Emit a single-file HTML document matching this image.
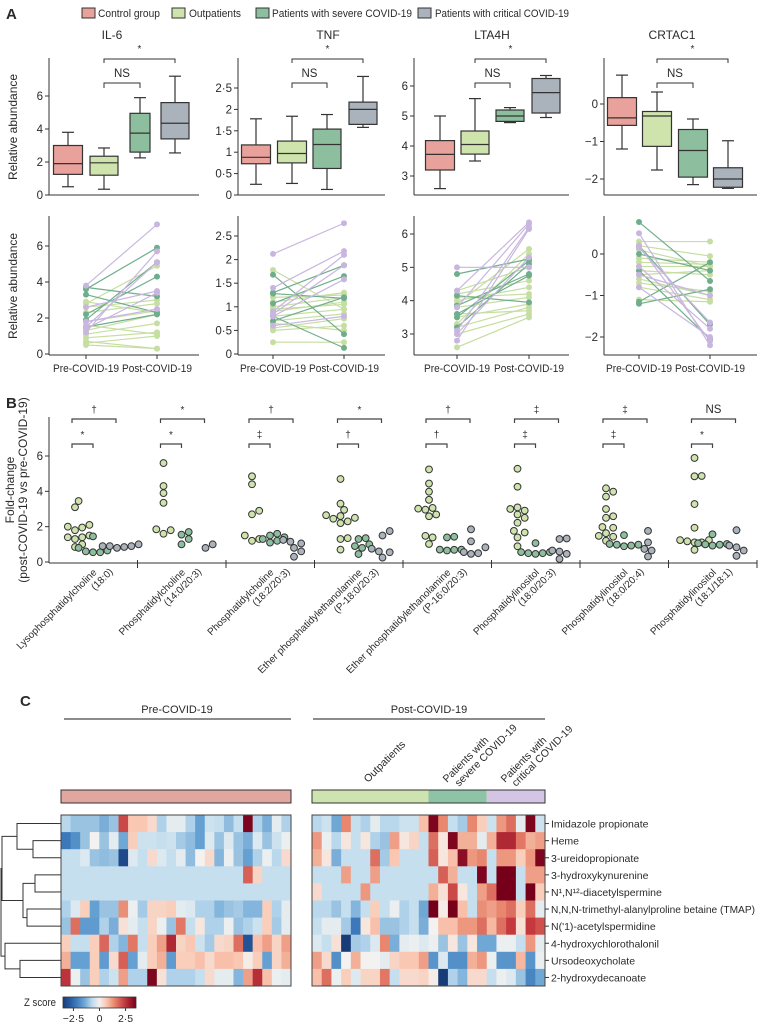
<!DOCTYPE html>
<html><head><meta charset="utf-8"><style>
html,body{margin:0;padding:0;background:#fff;}
svg{display:block;font-family:"Liberation Sans",sans-serif;}
text{fill:#2a2a2a;}
</style></head><body>
<svg id="fig" width="758" height="1025" viewBox="0 0 758 1025" xmlns="http://www.w3.org/2000/svg">
<text x="6" y="19" font-size="15" font-weight="bold">A</text>
<text x="6" y="408" font-size="15" font-weight="bold">B</text>
<text x="20" y="706" font-size="15" font-weight="bold">C</text>
<g font-size="11">
<g><rect x="82" y="8" width="13" height="10" fill="#e8a19b" stroke="#333"/><text x="98" y="17" textLength="62" lengthAdjust="spacingAndGlyphs">Control group</text></g>
<g><rect x="172" y="8" width="13" height="10" fill="#cfe3ad" stroke="#333"/><text x="189" y="17" textLength="52" lengthAdjust="spacingAndGlyphs">Outpatients</text></g>
<g><rect x="256" y="8" width="13" height="10" fill="#8dbf9f" stroke="#333"/><text x="272" y="17" textLength="140" lengthAdjust="spacingAndGlyphs">Patients with severe COVID-19</text></g>
<g><rect x="418" y="8" width="13" height="10" fill="#aab2bc" stroke="#333"/><text x="435" y="17" textLength="134" lengthAdjust="spacingAndGlyphs">Patients with critical COVID-19</text></g>
</g>
<text transform="translate(17,127) rotate(-90)" text-anchor="middle" font-size="12">Relative abundance</text>
<text transform="translate(17,286) rotate(-90)" text-anchor="middle" font-size="12">Relative abundance</text>
<text transform="translate(14,490) rotate(-90)" text-anchor="middle" font-size="12">Fold-change</text>
<text transform="translate(27,490) rotate(-90)" text-anchor="middle" font-size="12">(post-COVID-19 vs pre-COVID-19)</text>
<text x="24" y="1006" font-size="11" textLength="32" lengthAdjust="spacingAndGlyphs">Z score</text>
</svg>
<script>
// ---------- DATA ----------
const boxCategories = ['Control group','Outpatients','Patients with severe COVID-19','Patients with critical COVID-19'];
const proteinNames = ['IL-6','TNF','LTA4H','CRTAC1'];
// [min, q1, median, q3, max]
const il6Box = [[0.5,1.25,1.9,3.0,3.8],[0.35,1.2,1.95,2.35,2.85],[2.25,2.6,3.75,4.95,5.9],[2.55,3.4,4.35,5.6,7.2]];
const tnfBox = [[0.25,0.73,0.88,1.17,1.78],[0.27,0.75,0.97,1.26,1.84],[0.13,0.62,1.18,1.54,1.88],[1.58,1.65,2.0,2.17,2.77]];
const lta4hBox = [[2.58,3.2,3.72,4.18,5.0],[3.5,3.73,4.05,4.5,5.58],[4.78,4.82,5.0,5.2,5.28],[4.95,5.1,5.78,6.25,6.35]];
const crtac1Box = [[-1.2,-0.57,-0.37,0.17,0.77],[-1.76,-1.13,-0.32,-0.2,0.32],[-2.15,-1.95,-1.24,-0.68,-0.4],[-2.25,-2.22,-2.0,-1.7,-0.98]];
const il6Ticks = [0,2,4,6], tnfTicks = [0,0.5,1,1.5,2,2.5], lta4hTicks = [3,4,5,6], crtac1Ticks = [-2,-1,0];

const il6OutPre = [0.5,0.6,0.9,1.1,1.3,1.8,2.3,2.6,2.8,2.9,1.6,0.7];
const il6OutPost = [0.3,1.0,1.2,1.7,2.2,2.4,2.8,3.0,4.9,2.3,1.1,0.3];
const il6SevPre = [3.6,3.3,2.2,1.5,3.7,1.9];
const il6SevPost = [5.9,2.3,4.3,2.2,3.2,5.1];
const il6CritPre = [3.8,1.2,1.5,2.6,1.8,1.4];
const il6CritPost = [7.2,5.7,5.1,3.5,2.5,3.4];
const tnfOutPre = [0.25,0.5,0.55,0.7,0.8,0.9,1.0,1.1,1.2,1.78,0.65,0.95];
const tnfOutPost = [0.25,0.6,0.75,0.85,0.95,1.1,1.2,1.3,1.25,0.95,0.5,1.05];
const tnfSevPre = [1.68,1.3,1.07,0.7,1.28,0.8];
const tnfSevPost = [0.42,1.88,1.65,1.2,1.18,0.13];
const tnfCritPre = [2.12,1.4,0.9,0.85,0.8,0.6];
const tnfCritPost = [2.77,2.18,2.1,1.88,1.58,0.8];
const lta4hOutPre = [2.6,3.0,3.2,3.5,3.8,4.0,4.2,4.3,3.3,3.9,3.6,4.1];
const lta4hOutPost = [3.5,3.6,3.8,3.9,4.1,4.4,4.6,5.0,5.4,5.55,3.7,4.2];
const lta4hSevPre = [4.8,4.15,3.85,3.5,3.2,3.6];
const lta4hSevPost = [5.25,3.95,4.8,5.2,5.1,4.75];
const lta4hCritPre = [5.0,4.3,3.8,3.1,2.8,3.0];
const lta4hCritPost = [5.0,6.35,6.3,6.2,6.15,5.3];
const crtac1OutPre = [0.3,0.2,-0.1,-0.3,-0.5,-0.7,-0.8,-1.1,0.1,-0.4,-0.6,-0.2];
const crtac1OutPost = [0.3,-0.05,-0.2,-0.3,-0.4,-0.9,-1.1,-1.15,-0.3,-0.5,-1.0,-0.25];
const crtac1SevPre = [0.77,0.0,-0.4,-1.2,0.2,-1.15];
const crtac1SevPost = [-0.65,-0.4,-2.05,-0.85,-1.7,-0.2];
const crtac1CritPre = [0.5,0.2,0.15,-0.3,-0.5,-0.8];
const crtac1CritPost = [-2.2,-2.1,-1.65,-1.8,-1.0,-2.0];

const lipidLine1 = ['Lysophosphatidylcholine','Phosphatidylcholine','Phosphatidylcholine','Ether phosphatidylethanolamine','Ether phosphatidylethanolamine','Phosphatidylinositol','Phosphatidylinositol','Phosphatidylinositol'];
const lipidLine2 = ['(18:0)','(14:0/20:3)','(18:2/20:3)','(P-18:0/20:3)','(P-16:0/20:3)','(18:0/20:3)','(18:0/20:4)','(18:1/18:1)'];
const sigTop = ['†','*','†','*','†','‡','‡','NS'];
const sigBottom = ['*','*','‡','†','†','‡','‡','*'];
const fcOut = [
 [3.45,3.1,2.1,2.0,1.95,1.8,1.5,1.4,1.4,1.3,1.0,0.85],
 [5.6,4.3,3.9,3.35,1.85,1.8,1.6],
 [4.85,4.4,2.9,2.7,1.5,1.3,1.2],
 [4.7,3.3,2.95,2.65,2.6,2.5,2.45,2.3,2.2,1.35,1.3,0.7],
 [5.24,4.44,3.98,3.52,3.06,2.96,2.69,2.59,3.02,1.48,1.39,1.02],
 [5.28,4.26,3.09,2.91,2.69,2.5,2.22,1.76,1.67,1.39,0.89,3.0],
 [4.17,3.98,3.7,3.0,2.59,2.5,1.98,1.94,1.63,1.48,1.2,1.43],
 [5.89,4.87,4.85,3.28,1.94,1.24,1.11,1.11,1.17,0.69,1.24]];
const fcSev = [[1.45,0.8,0.65,0.6,0.55,0.55],[1.7,1.55,1.3,1.0],[1.6,1.5,1.4,1.3,1.2,1.1],[1.35,1.3,1.0,0.9,0.8,0.45],[1.39,1.43,0.7,0.69,0.65,0.7],[1.07,0.56,0.56,0.5,0.46,0.5],[1.52,0.98,0.93,0.89,0.98,1.02],[1.57,1.06,0.98,0.93,1.02,1.0]];
const fcCrit = [[1.0,0.9,0.9,0.85,0.8,0.9],[1.0,0.8],[1.25,1.15,1.05,0.8,0.6,0.3],[1.75,1.5,0.75,0.6,0.25,0.55],[1.85,1.17,0.83,0.56,0.46,0.5],[1.33,1.3,0.59,0.65,0.46,0.17],[1.76,1.11,0.74,0.65,0.31],[1.8,0.93,0.83,0.65,0.35]];
const fcTicks = [0,2,4,6];

const metabolites = ['Imidazole propionate','Heme','3-ureidopropionate','3-hydroxykynurenine','N¹,N¹²-diacetylspermine','N,N,N-trimethyl-alanylproline betaine (TMAP)',"N('1)-acetylspermidine",'4-hydroxychlorothalonil','Ursodeoxycholate','2-hydroxydecanoate'];
const heatPre = [
[-0.7,-1.0,-1.0,-1.0,-1.3,-1.0,2.3,0.7,0.7,0.4,-0.8,-0.2,-0.2,-0.8,-1.5,-0.5,-0.6,-1.1,-0.6,3.5,-0.8,-1.3,-0.2,-0.8],
[-2.2,-1.8,-1.0,0,-1.0,-0.2,-1.4,0.6,-0.5,-0.5,-0.6,-0.5,-0.9,-1.1,-1.5,-0.3,-1.0,-0.3,-1.0,-1.3,-0.3,-1.0,-0.5,-0.1],
[-0.6,-0.6,-0.3,-1.0,-1.1,-1.0,-3.2,-0.3,-0.6,0.4,-0.3,-0.6,-0.2,-1.1,0,0.4,-1.2,-0.1,-1.0,-1.5,-0.8,-0.1,-0.7,0.4],
[-0.6,-0.6,-0.6,-0.6,-0.6,-0.6,-0.6,-0.6,-0.6,-0.6,-0.6,-0.6,-0.6,-0.6,-0.6,-0.6,-0.6,-0.6,-0.6,2.0,0.5,-0.6,-0.6,-0.6],
[-0.6,-0.6,-0.6,-0.6,-0.6,-0.6,-0.6,-0.6,-0.6,-0.6,-0.6,-0.6,-0.6,-0.6,-0.6,-0.6,-0.6,-0.6,-0.6,-0.6,-0.6,-0.6,-0.6,-0.6],
[-0.8,-0.3,0.6,-1.5,-1.0,-1.0,1.4,-0.1,-0.9,0.5,0.5,0.6,-0.2,-0.3,-0.8,-0.8,-1.2,-1.0,-0.9,-1.2,-1.2,0.6,-0.8,-0.2],
[-1.0,1.8,-1.6,-1.6,-0.8,-1.3,0.3,-0.2,-0.6,0.5,-0.1,-1.0,1.7,-0.6,0.2,-0.8,-0.8,-0.1,-1.0,-0.8,-0.5,0.6,-0.9,-0.2],
[0.6,-0.6,-0.6,0.6,1.9,-0.8,-1.2,1.7,-0.6,0.6,1.2,2.8,0.5,0.7,-0.5,-0.9,0.4,0.5,1.8,-3.0,0.8,1.2,0.5,1.2],
[1.0,-1.5,-1.5,0.6,-1.6,0.4,2.0,-1.5,-0.2,0.6,1.0,-1.6,0.6,0.6,0.8,0.4,0.8,0.8,0.7,0.1,0.6,-1.5,0.5,1.0],
[2.6,-0.1,-1.0,0.6,-0.8,-0.5,1.2,-0.8,-0.8,3.5,0.3,-0.8,-0.8,-0.8,-0.6,0.4,-0.2,-0.2,-1.2,1.2,2.7,0.8,-0.1,-0.2]];
const heatPost = [
[-0.7,-0.5,-1.4,1.5,-0.6,-0.8,-0.2,-0.7,-0.7,-0.5,-0.5,0.8,3.5,1.5,-0.6,-0.9,1.5,0.6,-0.5,1.3,1.8,-0.2,3.5,-0.5],
[1.3,-0.1,-0.7,0.2,-0.6,0.2,-0.8,-1.0,1.2,0.2,0.5,-0.6,1.8,0.2,3.5,1.0,1.0,-0.2,1.0,2.8,2.8,1.7,1.0,1.2],
[1.0,0.2,-1.3,-0.6,-0.6,-0.6,1.8,-0.9,0.7,-0.6,-0.6,-0.6,2.0,0.2,0.8,3.3,1.3,1.5,-0.6,1.3,1.3,0.6,1.3,3.5],
[-0.6,-0.6,-0.6,1.2,-0.6,-0.6,1.2,-0.6,-0.6,-0.6,-0.6,-0.6,-0.6,2.0,1.0,-0.6,-0.6,3.5,-0.6,3.8,3.8,-0.6,1.2,1.2],
[0.4,-0.6,-0.6,-0.6,-0.6,1.3,-0.6,-0.6,-0.6,-0.6,-0.6,-0.6,1.0,0.3,2.3,0.2,-0.6,1.2,1.8,3.8,3.8,-0.6,3.8,0.6],
[-0.7,-0.7,-1.0,-0.6,-1.2,-0.6,0.6,-0.6,-0.1,-0.8,-0.6,-1.4,3.8,0.1,3.8,0.8,-0.6,1.4,1.2,1.5,1.8,0.6,1.8,-0.2],
[-0.6,-0.2,-0.2,-0.9,-2.2,0.2,0.8,-1.0,-1.0,-0.8,-0.6,-1.3,0,0.8,0.8,1.3,1.3,1.8,0.9,1.8,2.5,0.3,2.5,2.2],
[-0.3,-0.6,0.3,-3.5,-0.9,-0.8,-0.3,1.5,-1.3,-0.2,-0.1,-0.3,-0.1,-1.0,0.2,-1.0,0.2,-1.4,-1.4,-0.1,-0.1,-0.6,1.3,-0.2],
[1.2,0.4,-1.8,0,1.0,0,0,-0.2,0.5,0.7,0.7,1.2,-1.7,-0.3,-1.8,-1.8,1.0,1.3,-0.1,-1.7,-1.7,0.9,-1.7,-0.1],
[0.8,1.8,-0.1,0.6,-0.3,0.5,0.5,1.7,-0.6,0.4,0.4,0.5,0.1,-3.5,-0.8,-1.2,0.4,0.4,-0.6,-0.1,-0.3,-1.0,-2.0,-1.4]];
const postGroupSizes = [12,6,6];
const zTicks = [-2.5,0,2.5];

// ---------- HELPERS ----------
const NS='http://www.w3.org/2000/svg';
const svg=document.getElementById('fig');
function mk(tag,attrs,parent){const e=document.createElementNS(NS,tag);for(const k in attrs)e.setAttribute(k,attrs[k]);(parent||svg).appendChild(e);return e;}
function fmt(v){let s=(Math.abs(v)%1===0)?String(Math.abs(v)):Math.abs(v).toFixed(1);s=s.replace('.','·');return (v<0?'−':'')+s;}
function lin(v0,p0,v1,p1){return v=>p0+(v-v0)*(p1-p0)/(v1-v0);}
const groupFill=['#e8a19b','#cfe3ad','#8dbf9f','#aab2bc'];
const lineCol={out:'#c6dea2',sev:'#6fae8c',crit:'#c8b6e0'};

// ---------- PANEL A: BOX PLOTS ----------
const boxData=[il6Box,tnfBox,lta4hBox,crtac1Box];
const boxTicks=[il6Ticks,tnfTicks,lta4hTicks,crtac1Ticks];
const boxCfg=[
 {ax:49,xe:199,cx:[68,104,140,175],bw:[29,28,20,28],y:lin(0,195,6,96),title:112},
 {ax:238,xe:385,cx:[256,292,327,363],bw:[29,29,28,28],y:lin(0,195,2.5,88),title:328},
 {ax:414,xe:569,cx:[440,475,510,546],bw:[29,28,28,28],y:lin(3,176,6,86),title:492},
 {ax:604,xe:757,cx:[622,657,693,728],bw:[29,29,29,29],y:lin(0,104,-2,179),title:672}];
boxCfg.forEach((c,p)=>{
 const g=mk('g',{});
 
 
 const t=mk('text',{x:c.title,y:39,'text-anchor':'middle','font-size':12},g);t.textContent=proteinNames[p];
 
 
 mk('line',{x1:c.ax,y1:58,x2:c.ax,y2:195,stroke:'#333','stroke-width':1},g);
 mk('line',{x1:c.ax,y1:195,x2:c.xe,y2:195,stroke:'#333','stroke-width':1},g);
 boxTicks[p].forEach(v=>{const yy=c.y(v);mk('line',{x1:c.ax-4,y1:yy,x2:c.ax,y2:yy,stroke:'#333'},g);
  const tl=mk('text',{x:c.ax-6,y:yy+4,'text-anchor':'end','font-size':11.5},g);tl.textContent=fmt(v);
  
  });
 boxData[p].forEach((d,i)=>{const x=c.cx[i],w=c.bw[i];
  const bx=mk('g',{},g);
  
  
  mk('line',{x1:x,y1:c.y(d[0]),x2:x,y2:c.y(d[4]),stroke:'#333','stroke-width':1.2},bx);
  mk('line',{x1:x-6,y1:c.y(d[0]),x2:x+6,y2:c.y(d[0]),stroke:'#333','stroke-width':1.2},bx);
  mk('line',{x1:x-6,y1:c.y(d[4]),x2:x+6,y2:c.y(d[4]),stroke:'#333','stroke-width':1.2},bx);
  const yq3=c.y(d[3]),yq1=c.y(d[1]);
  mk('rect',{x:x-w/2,y:Math.min(yq1,yq3),width:w,height:Math.abs(yq1-yq3),fill:groupFill[i],stroke:'#333','stroke-width':1.2},bx);
  mk('line',{x1:x-w/2,y1:c.y(d[2]),x2:x+w/2,y2:c.y(d[2]),stroke:'#333','stroke-width':1.2},bx);
 });
 const a=c.cx[1],b=c.cx[2],e=c.cx[3];
 mk('path',{d:`M${a} 63V59H${e}V63`,fill:'none',stroke:'#333'},g);
 mk('path',{d:`M${a} 88V83H${b}V88`,fill:'none',stroke:'#333'},g);
 const s1=mk('text',{x:(a+e)/2,y:52,'text-anchor':'middle','font-size':10,fill:'#555'},g);s1.textContent='*';
 
 
 const s2=mk('text',{x:(a+b)/2,y:77,'text-anchor':'middle','font-size':11.5},g);s2.textContent='NS';
 
 
});

// ---------- PANEL A: PAIRED LINES ----------
const lineSets=[
 [[il6OutPre,il6OutPost],[il6SevPre,il6SevPost],[il6CritPre,il6CritPost]],
 [[tnfOutPre,tnfOutPost],[tnfSevPre,tnfSevPost],[tnfCritPre,tnfCritPost]],
 [[lta4hOutPre,lta4hOutPost],[lta4hSevPre,lta4hSevPost],[lta4hCritPre,lta4hCritPost]],
 [[crtac1OutPre,crtac1OutPost],[crtac1SevPre,crtac1SevPost],[crtac1CritPre,crtac1CritPost]]];
const lineCfg=[
 {ax:49,xe:199,pre:86,post:157,y:lin(0,354,6,246)},
 {ax:238,xe:385,pre:273,post:344,y:lin(0,354,2.5,236)},
 {ax:414,xe:569,pre:457,post:529,y:lin(3,334,6,234)},
 {ax:604,xe:757,pre:639,post:710,y:lin(0,254,-2,337)}];
const grpKeys=['out','sev','crit'];
lineCfg.forEach((c,p)=>{
 const g=mk('g',{});
 
 
 mk('line',{x1:c.ax,y1:216,x2:c.ax,y2:355,stroke:'#333'},g);
 mk('line',{x1:c.ax,y1:355,x2:c.xe,y2:355,stroke:'#333'},g);
 [c.pre,c.post].forEach(x=>mk('line',{x1:x,y1:355,x2:x,y2:359,stroke:'#333'},g));
 const l1=mk('text',{x:c.pre,y:372,'text-anchor':'middle','font-size':11,textLength:66,lengthAdjust:'spacingAndGlyphs'},g);l1.textContent='Pre-COVID-19';
 
 
 const l2=mk('text',{x:c.post,y:372,'text-anchor':'middle','font-size':11,textLength:70,lengthAdjust:'spacingAndGlyphs'},g);l2.textContent='Post-COVID-19';
 
 
 boxTicks[p].forEach(v=>{const yy=c.y(v);mk('line',{x1:c.ax-4,y1:yy,x2:c.ax,y2:yy,stroke:'#333'},g);
  const tl=mk('text',{x:c.ax-6,y:yy+4,'text-anchor':'end','font-size':11.5},g);tl.textContent=fmt(v);
  
  });
 lineSets[p].forEach((pair,gi)=>{
  const col=lineCol[grpKeys[gi]];
  pair[0].forEach((v,i)=>{
   const ln=mk('line',{x1:c.pre,y1:c.y(v),x2:c.post,y2:c.y(pair[1][i]),stroke:col,'stroke-width':1.2},g);
   
   
   mk('circle',{cx:c.pre,cy:c.y(v),r:3,fill:col},g);
   mk('circle',{cx:c.post,cy:c.y(pair[1][i]),r:3,fill:col},g);
  });
 });
});

// ---------- PANEL B ----------
(function(){
 const ax=49,xEnd=757,gw=88.5,y=lin(0,562,6,456);
 const g=mk('g',{});
 
 
 mk('line',{x1:ax,y1:417,x2:ax,y2:563,stroke:'#333'},g);
 mk('line',{x1:ax,y1:563,x2:xEnd,y2:563,stroke:'#333'},g);
 fcTicks.forEach(v=>{const yy=y(v);mk('line',{x1:ax-4,y1:yy,x2:ax,y2:yy,stroke:'#333'},g);
  const tl=mk('text',{x:ax-6,y:yy+4,'text-anchor':'end','font-size':11.5},g);tl.textContent=fmt(v);
  
  });
 const fills=['#cfe3ad','#8dbf9f','#aab2bc'],offs=[26,44,68];
 lipidLine1.forEach((nm,k)=>{
  const x0=ax+k*gw;
  mk('line',{x1:x0+gw,y1:560,x2:x0+gw,y2:568,stroke:'#333'},g);
  [fcOut[k],fcSev[k],fcCrit[k]].forEach((vals,gi)=>{
   const placed=[];const cx=x0+offs[gi];
   vals.slice().sort((a,b)=>a-b).forEach(v=>{
    const cy=y(v);let dx=0;
    for(let s=0;s<12;s++){const cand=(s%2?1:-1)*Math.ceil(s/2)*3.6;
     if(placed.every(q=>Math.hypot(q[0]-cand,q[1]-cy)>=7)){dx=cand;break;}}
    placed.push([dx,cy]);
    const c=mk('circle',{cx:cx+dx,cy:cy,r:3.4,fill:fills[gi],stroke:'#333','stroke-width':1},g);
    
    
   });
  });
  const a=x0+23,b=x0+44,e=x0+67;
  mk('path',{d:`M${a} 423V419H${e}V423`,fill:'none',stroke:'#444','stroke-width':1.2},g);
  mk('path',{d:`M${a} 448V444H${b}V448`,fill:'none',stroke:'#444','stroke-width':1.2},g);
  const t1=mk('text',{x:(a+e)/2,y:413,'text-anchor':'middle','font-size':sigTop[k]==='NS'?11.5:10,fill:sigTop[k]==='NS'?'#2a2a2a':'#777'},g);t1.textContent=sigTop[k];
  
  
  const t2=mk('text',{x:(a+b)/2,y:438,'text-anchor':'middle','font-size':10,fill:'#777'},g);t2.textContent=sigBottom[k];
  
  
  const lx=x0+gw/2+4,ly=573;
  const lab=mk('text',{transform:`translate(${lx},${ly}) rotate(-45)`,'text-anchor':'end','font-size':10},g);
  
  
  const ts1=mk('tspan',{x:0,y:0},lab);ts1.textContent=nm;
  const ts2=mk('tspan',{x:12,y:11},lab);ts2.textContent=lipidLine2[k];
 });
})();

// ---------- PANEL C: HEATMAP ----------
function zcol(v){const st=[[-3.5,[24,60,120]],[-2.5,[45,105,175]],[-1.5,[100,160,210]],[-0.6,[197,223,239]],[0,[244,242,240]],[0.7,[250,200,178]],[1.5,[232,135,110]],[2.5,[196,56,62]],[3.6,[118,0,26]]];
 if(v<=st[0][0])return `rgb(${st[0][1]})`;for(let i=1;i<st.length;i++){if(v<=st[i][0]){const t=(v-st[i-1][0])/(st[i][0]-st[i-1][0]);const c=st[i-1][1].map((a,j)=>Math.round(a+(st[i][1][j]-a)*t));return `rgb(${c})`;}}return `rgb(${st[st.length-1][1]})`;}
(function(){
 const top=815,rh=17.1,g=mk('g',{});
 
 
 const hp=mk('text',{x:177,y:713,'text-anchor':'middle','font-size':11},g);hp.textContent='Pre-COVID-19';
 
 
 mk('line',{x1:64,y1:719,x2:291,y2:719,stroke:'#666','stroke-width':1.5},g);
 const hq=mk('text',{x:429,y:713,'text-anchor':'middle','font-size':11},g);hq.textContent='Post-COVID-19';
 
 
 mk('line',{x1:313,y1:719,x2:545,y2:719,stroke:'#666','stroke-width':1.5},g);
 const gl=[['Outpatients',368,783],['Patients with',447,783],['severe COVID-19',459,787],['Patients with',505,783],['critical COVID-19',516,787]];
 gl.forEach(q=>{const t=mk('text',{transform:`translate(${q[1]},${q[2]}) rotate(-45)`,'font-size':10.5},g);t.textContent=q[0];
  
  });
 mk('rect',{x:61,y:790,width:230,height:13,fill:'#e2a6a1',stroke:'#333'},g);
 const panels=[{x:61,w:230,d:heatPre},{x:312,w:233,d:heatPost}];
 const gc=['#cde3b0','#8fc3a6','#d3c5e3'];let cx=312;const cw=233/24;
 postGroupSizes.forEach((n,i)=>{mk('rect',{x:cx,y:790,width:n*cw,height:13,fill:gc[i]},g);cx+=n*cw;});
 mk('rect',{x:312,y:790,width:233,height:13,fill:'none',stroke:'#333'},g);
 panels.forEach(P=>{const cwid=P.w/P.d[0].length;
  P.d.forEach((row,r)=>row.forEach((v,c)=>{
   const cell=mk('rect',{x:P.x+c*cwid,y:top+r*rh,width:cwid+0.4,height:rh+0.4,fill:zcol(v)},g);
   
   }));
  mk('rect',{x:P.x,y:top,width:P.w,height:rh*10,fill:'none',stroke:'#444','stroke-width':1},g);});
 metabolites.forEach((m,r)=>{const yy=top+rh*(r+0.5);
  mk('line',{x1:545,y1:yy,x2:549,y2:yy,stroke:'#333'},g);
  const attrs={x:551,y:yy+4,'font-size':10.5};
  const t=mk('text',attrs,g);t.textContent=m;
  if(m.length>30){t.setAttribute('textLength','204');t.setAttribute('lengthAdjust','spacingAndGlyphs');t.setAttribute('font-size','10');}
  
  
  mk('line',{x1:57,y1:yy,x2:61,y2:yy,stroke:'#333'},g);});
 const ry=r=>top+rh*(r+0.5);
 const dg=mk('g',{fill:'none',stroke:'#333','stroke-width':1},g);
 
 
 function join(y1,x1,y2,x2,xj){mk('path',{d:`M${x1} ${y1}H${xj}V${y2}H${x2}`},dg);return [(y1+y2)/2,xj];}
 const A=join(ry(1),57,ry(2),57,33);
 const B=join(ry(0),57,A[0],A[1],17);
 const C=join(ry(3),57,ry(4),57,35);
 const D=join(ry(5),57,ry(6),57,27);
 const E=join(C[0],C[1],D[0],D[1],23);
 const F=join(B[0],B[1],E[0],E[1],2);
 const G=join(ry(8),57,ry(9),57,20);
 const H=join(ry(7),57,G[0],G[1],5);
 join(F[0],F[1],H[0],H[1],1);
 const grad=mk('defs',{},svg);const lg=mk('linearGradient',{id:'zg',x1:0,x2:1,y1:0,y2:0},grad);
 for(let i=0;i<=10;i++){const v=-3.5+7.1*i/10;mk('stop',{offset:(i*10)+'%','stop-color':zcol(v)},lg);}
 const zb=mk('rect',{x:63,y:997,width:73,height:11,fill:'url(#zg)',stroke:'#333','stroke-width':0.8},g);
 
 
 const zx=lin(-3.5,63,3.5,136);
 zTicks.forEach(v=>{mk('line',{x1:zx(v),y1:1008,x2:zx(v),y2:1011,stroke:'#333'},g);
  const t=mk('text',{x:zx(v),y:1022,'text-anchor':'middle','font-size':10.5},g);t.textContent=fmt(v);
  
  });
})();
</script>
</body></html>
